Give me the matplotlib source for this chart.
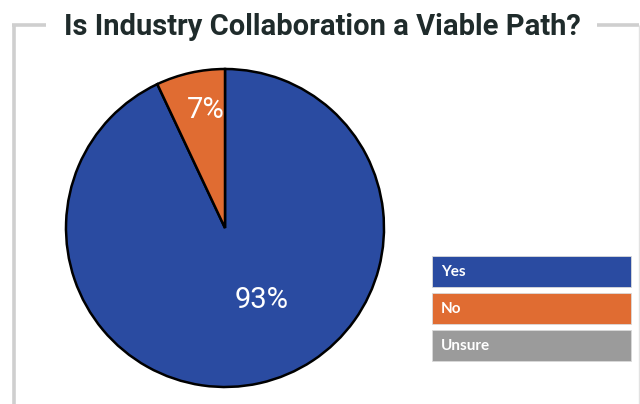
import matplotlib
matplotlib.use("Agg")
import matplotlib.pyplot as plt
from matplotlib.patches import Rectangle
from matplotlib import font_manager

# Survey results
categories = ["Yes", "No", "Unsure"]
values = [93, 7, 0]
colors = ["#2A4BA1", "#E06C32", "#9B9B9B"]
title = "Is Industry Collaboration a Viable Path?"

W, H = 640, 404
fig = plt.figure(figsize=(W / 100, H / 100), dpi=100)
fig.patch.set_facecolor("white")

installed = {f.name for f in font_manager.fontManager.ttflist}
narrow = "Liberation Sans Narrow" if "Liberation Sans Narrow" in installed else "Roboto"

# Overlay axes in pixel coordinates (y grows downward) for frame and legend
bg = fig.add_axes([0, 0, 1, 1])
bg.set_xlim(0, W)
bg.set_ylim(H, 0)
bg.axis("off")

frame_c = "#CFCFCF"
bg.plot([13.5, 13.5], [404, 25], color=frame_c, lw=2.6, solid_capstyle="butt")
bg.plot([12.2, 46], [25, 25], color=frame_c, lw=2.6, solid_capstyle="butt")
bg.plot([597, 639], [25, 25], color=frame_c, lw=2.6, solid_capstyle="butt")
bg.plot([639, 639], [25, 404], color="#E2E2E2", lw=1.0, solid_capstyle="butt")

bg.text(322, 35, title, ha="center", va="baseline", fontsize=21,
        fontweight="bold", color="#1F2B2B", family=narrow)

# Legend boxes
box_x, box_w, box_h = 432, 199, 31
box_tops = [256, 293, 330]
for cat, col, top in zip(categories, colors, box_tops):
    bg.add_patch(Rectangle((box_x, top), box_w, box_h, facecolor=col,
                           edgecolor="#DADADA", lw=0.6))
    bg.text(box_x + 9, top + box_h / 2 + 0.5, cat, ha="left", va="center",
            fontsize=11, fontweight="bold", color="white", family="Lato")

# Pie
ax = fig.add_axes([66 / W, (H - 387) / H, 318 / W, 318 / H])
shown = [(v, c) for v, c in zip(values, colors) if v > 0]
wedges, texts, autotexts = ax.pie(
    [v for v, _ in shown], colors=[c for _, c in shown],
    startangle=90, counterclock=False,
    autopct=lambda p: f"{p:.0f}%", pctdistance=0.5,
    wedgeprops=dict(edgecolor="black", linewidth=1.8),
    textprops=dict(color="white", fontsize=21, family=narrow),
)
ax.set_xlim(-1, 1)
ax.set_ylim(-1, 1)
ax.set_aspect("equal")
ax.axis("off")
for w in wedges:
    w.set_clip_on(False)

label_pos = [(0.233, -0.45), (-0.12, 0.74)]
for t, pos in zip(autotexts, label_pos):
    t.set_position(pos)

fig.savefig("out.png", dpi=100, facecolor="white")
